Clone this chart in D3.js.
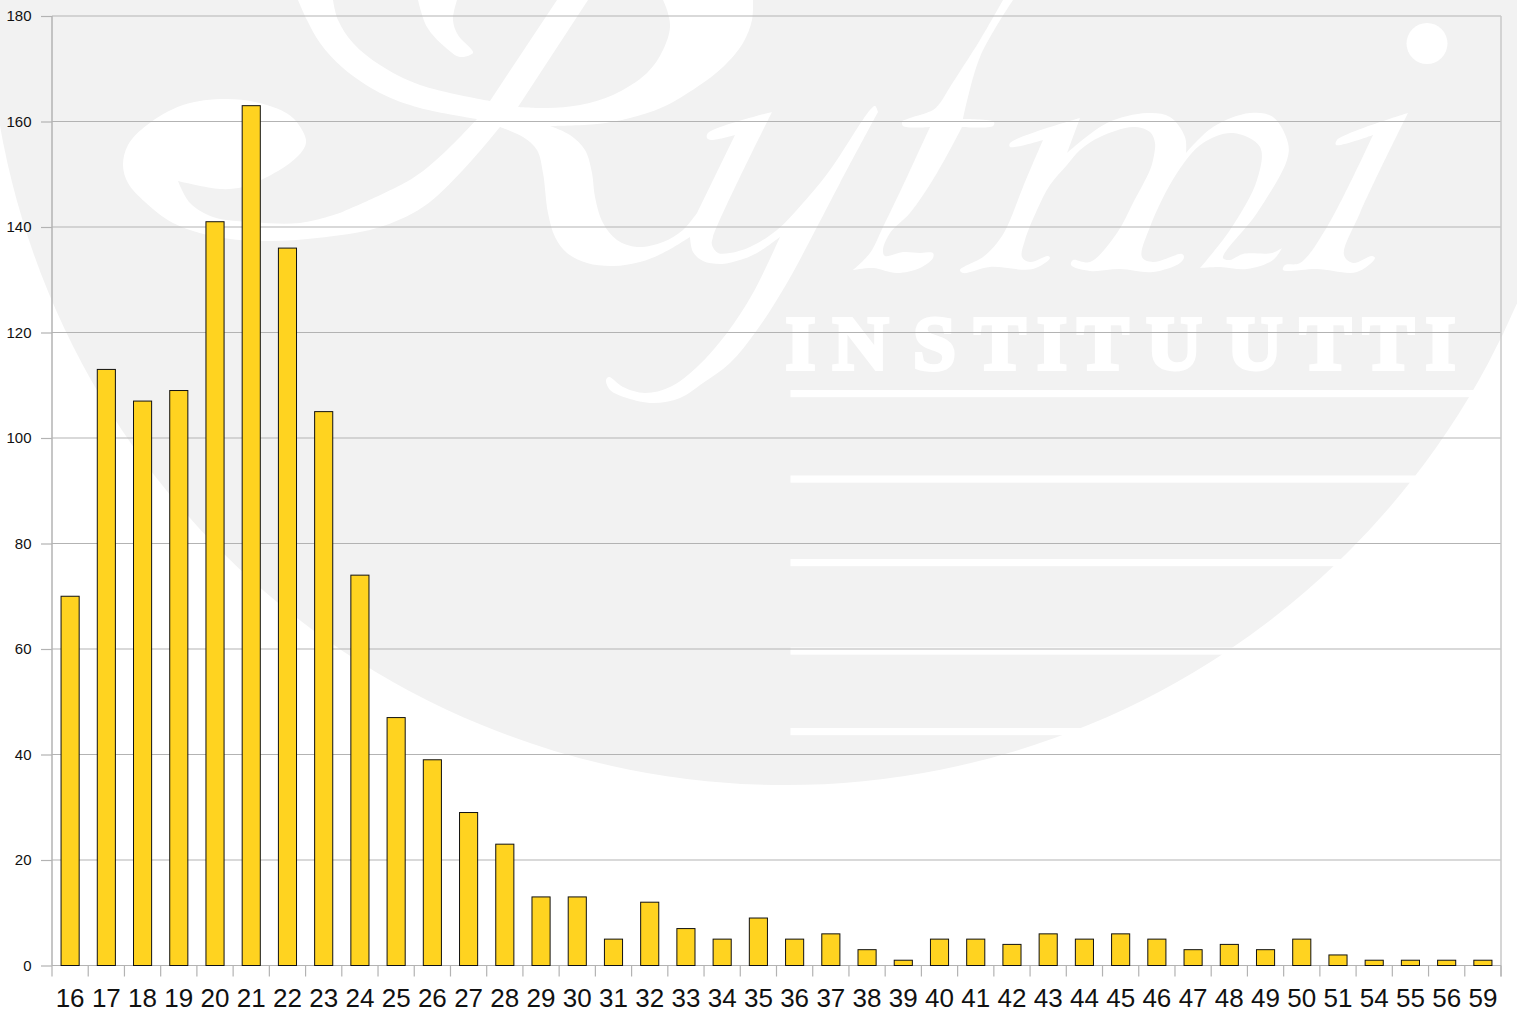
<!DOCTYPE html>
<html>
<head>
<meta charset="utf-8">
<script src="https://cdnjs.cloudflare.com/ajax/libs/d3/7.8.5/d3.min.js"></script>
<style>
  html, body { margin: 0; padding: 0; background: #fff; overflow: hidden; }
  svg { display: block; }
  text { font-family: "Liberation Sans", Arial, sans-serif; fill: #111; }
</style>
</head>
<body>
<div class="chart"></div>
<script>
var ages = ['16','17','18','19','20','21','22','23','24','25','26','27','28','29','30','31','32','33','34','35',
  '36','37','38','39','40','41','42','43','44','45','46','47','48','49','50','51','54','55','56','59'];
var counts = [70,113,107,109,141,163,136,105,74,47,39,29,23,13,13,5,12,7,5,9,
  5,6,3,1,5,5,4,6,5,6,5,3,4,3,5,2,1,1,1,1];
var yTicks = [0,20,40,60,80,100,120,140,160,180];

var width = 1517,
  height = 1015,
  left = 52,
  right = 1501,
  top_ = 16,
  bottom = 965.5;

var svg = d3.select('.chart')
  .append('svg')
  .attr('width', width)
  .attr('height', height);

//WATERMARK (logo behind the plot, each edge is smoothed on its own)
var edge = d3.line().curve(d3.curveCatmullRom.alpha(0.5));
function outline(edges) {
  return edges.map(function(e, i) {
    var s = edge(e);
    return i ? s.replace('M', 'L') : s;
  }).join('') + 'Z';
}

var logoR = [
  [[[500,127],[463,170],[423,207],[377,228],[317,238],[267,241],[217,237],[173,223],[145,202],[128,183],[123,165],[128,145],[147,125],[183,105],[227,99],[267,105],[293,118],[306,140],[303,150],[290,163],[265,178],[243,187],[220,189],[178,181]],
   [[178,181],[190,203],[213,217],[250,222],[300,223],[340,213]],
   [[340,213],[413,178],[447,150],[477,119]],
   [[477,119],[420,108],[380,93],[343,68],[320,43],[307,20],[298,0]],
   [[298,0],[333,0]],
   [[333,0],[338,20],[353,43],[380,65],[420,85],[490,101]],
   [[490,101],[557,0]],
   [[557,0],[588,0]],
   [[588,0],[518,107]],
   [[518,107],[547,108],[580,105],[613,95],[647,73],[663,50],[670,27],[667,10],[663,0]],
   [[663,0],[753,0]],
   [[753,0],[752,20],[743,43],[723,67],[697,87],[663,107],[630,118],[597,124],[550,126]],
   [[550,126],[570,135],[585,150],[592,173],[595,197],[603,223],[617,240],[637,247],[663,242],[683,230],[697,213]],
   [[697,213],[735,135]],
   [[735,135],[711,140],[707,138],[708,133],[772,112]],
   [[772,112],[713,237],[712,245],[718,253],[730,253],[750,247],[777,230],[803,203],[830,170],[870,110],[875,106],[878,112]],
   [[878,112],[840,183],[817,227],[787,283],[757,330],[730,363],[703,383],[680,398],[653,403],[627,398],[610,390],[606,380],[609,377],[623,387],[645,393],[670,387],[697,367],[727,333],[753,293],[780,237]],
   [[780,237],[757,253],[740,260],[722,264],[703,261],[693,252],[690,237]],
   [[690,237],[663,253],[640,262],[613,266],[587,263],[567,253],[555,237],[548,213],[543,173],[537,150],[523,137],[500,127]]
  ],
  [[[418,0],[427,27],[445,47],[460,57],[473,53],[472,50],[458,35],[453,20],[457,0]]]
];
var logoT = [
  [[[1003,0],[980,40],[950,87],[940,103],[933,110],[910,118],[902,121]],
   [[902,121],[903,126],[930,127]],
   [[930,127],[907,177],[883,227],[870,253],[853,270]],
   [[853,270],[873,268],[897,273],[920,268],[933,258],[933,253],[920,253],[903,252],[885,256],[883,250],[890,233],[910,213],[937,173],[962,127]],
   [[962,127],[993,126],[994,122],[963,119]],
   [[963,119],[980,57],[1013,0]]
  ]
];
var logoM = [
  [[[1080,118],[1010,143],[1010,147],[1043,140]],
   [[1043,140],[1023,187],[1007,227],[997,243],[983,257],[960,270],[963,273],[990,267],[1033,269],[1050,258],[1048,256],[1030,262],[1022,257],[1025,240],[1037,210],[1050,185],[1067,165],[1080,150],[1100,137],[1133,127],[1150,132],[1155,143],[1153,160],[1150,170],[1133,203],[1117,233],[1090,262],[1073,260],[1071,265],[1090,271],[1120,269],[1153,272],[1180,263],[1184,257],[1182,254],[1153,262],[1142,257],[1150,227],[1177,173],[1203,143],[1233,133],[1260,147],[1257,180],[1230,230],[1200,268]],
   [[1200,268],[1220,267],[1247,269],[1273,260],[1282,248]],
   [[1282,248],[1272,253],[1243,254],[1230,260],[1223,258],[1257,213],[1287,160],[1288,143],[1273,117],[1250,113],[1213,127],[1186,153]],
   [[1186,153],[1185,137],[1170,117],[1147,113],[1107,123],[1067,153]],
   [[1067,153],[1080,118]]
  ]
];
var logoI = [
  [[[1408,113],[1337,140],[1336,145],[1373,135]],
   [[1373,135],[1327,227],[1300,263],[1285,265],[1283,270],[1317,269],[1357,272],[1375,258],[1372,256],[1353,263],[1344,255],[1360,213],[1408,113]]
  ]
];

var logo = svg.append('g').attr('class', 'logo');
logo.append('title').text('Rytmi Instituutti');

logo.append('circle')
  .attr('cx', 785)
  .attr('cy', -12)
  .attr('r', 797)
  .style('fill', '#f2f2f2');

logo.selectAll('.script')
  .data(logoR.concat(logoT, logoM, logoI))
  .enter()
  .append('path')
  .attr('class', 'script')
  .attr('d', outline)
  .style('fill', '#fff');

logo.append('circle')
  .attr('cx', 1427)
  .attr('cy', 43.5)
  .attr('r', 20.5)
  .style('fill', '#fff');

// one x per letter, text-anchor then centres each of them, stroke makes it as heavy as the logo
logo.append('text')
  .attr('x', '800.5 860.5 934.5 1000 1052 1103 1174 1254.5 1325.5 1388.5 1440.5')
  .attr('y', 369)
  .attr('text-anchor', 'middle')
  .style('font-family', '"Liberation Serif", serif')
  .style('font-weight', 'bold')
  .style('font-size', '77px')
  .style('fill', '#fff')
  .style('stroke', '#fff')
  .style('stroke-width', 4)
  .text('INSTITUUTTI');

logo.selectAll('.rule')
  .data([390, 475.5, 559, 647.5, 728])
  .enter()
  .append('rect')
  .attr('class', 'rule')
  .attr('x', 790.5)
  .attr('y', function(d) { return d; })
  .attr('width', 720)
  .attr('height', 7.2)
  .style('fill', '#fff');

//ADD SCALE
var xScale = d3.scaleBand()
  .domain(ages)
  .range([left, right])
  .paddingInner(0.5)
  .paddingOuter(0.25);

var yScale = d3.scaleLinear()
  .domain([0, 180])
  .range([bottom, top_]);

//GRID
svg.selectAll('.grid')
  .data(yTicks)
  .enter()
  .append('line')
  .attr('class', 'grid')
  .attr('x1', left)
  .attr('x2', right)
  .attr('y1', function(d) { return yScale(d); })
  .attr('y2', function(d) { return yScale(d); })
  .style('stroke', '#b3b3b3')
  .style('stroke-width', 1.2);

//ADD AXIS
var yAxisG = svg.append('g')
  .attr('transform', 'translate(' + left + ',0)')
  .call(d3.axisLeft(yScale).tickValues(yTicks).tickSize(11).tickPadding(9.5));

yAxisG.selectAll('line').style('stroke', '#b3b3b3').style('stroke-width', 1.2);
yAxisG.select('.domain').attr('d', 'M0,' + top_ + 'V' + bottom).style('stroke', '#b3b3b3').style('stroke-width', 1.5);
yAxisG.selectAll('text').style('font-size', '15px').style('font-family', '"Liberation Sans"').style('fill', '#111');

// right border of the plot
svg.append('line')
  .attr('x1', right)
  .attr('x2', right)
  .attr('y1', top_)
  .attr('y2', bottom + 11)
  .style('stroke', '#c8c8c8')
  .style('stroke-width', 1.5);

// ticks sit between the bars, not under them
svg.selectAll('.xtick')
  .data(ages.concat(['end']))
  .enter()
  .append('line')
  .attr('class', 'xtick')
  .attr('x1', function(d, i) { return left + i * xScale.step(); })
  .attr('x2', function(d, i) { return left + i * xScale.step(); })
  .attr('y1', bottom)
  .attr('y2', bottom + 11)
  .style('stroke', '#b3b3b3')
  .style('stroke-width', 1.2);

var xAxisG = svg.append('g')
  .attr('transform', 'translate(0,' + bottom + ')')
  .call(d3.axisBottom(xScale).tickSize(0).tickPadding(23));

xAxisG.select('.domain').style('stroke', '#b3b3b3').attr('d', 'M' + left + ',0H' + right);
xAxisG.selectAll('text').style('font-size', '26px').style('font-family', '"Liberation Sans"').style('fill', '#111');

//BARS
svg.selectAll('.bar')
  .data(counts)
  .enter()
  .append('rect')
  .attr('class', 'bar')
  .attr('x', function(d, i) { return xScale(ages[i]); })
  .attr('y', function(d) { return yScale(d); })
  .attr('width', xScale.bandwidth())
  .attr('height', function(d) { return bottom - yScale(d); })
  .style('fill', '#ffd320')
  .style('stroke', '#111')
  .style('stroke-width', 1);
</script>
</body>
</html>
